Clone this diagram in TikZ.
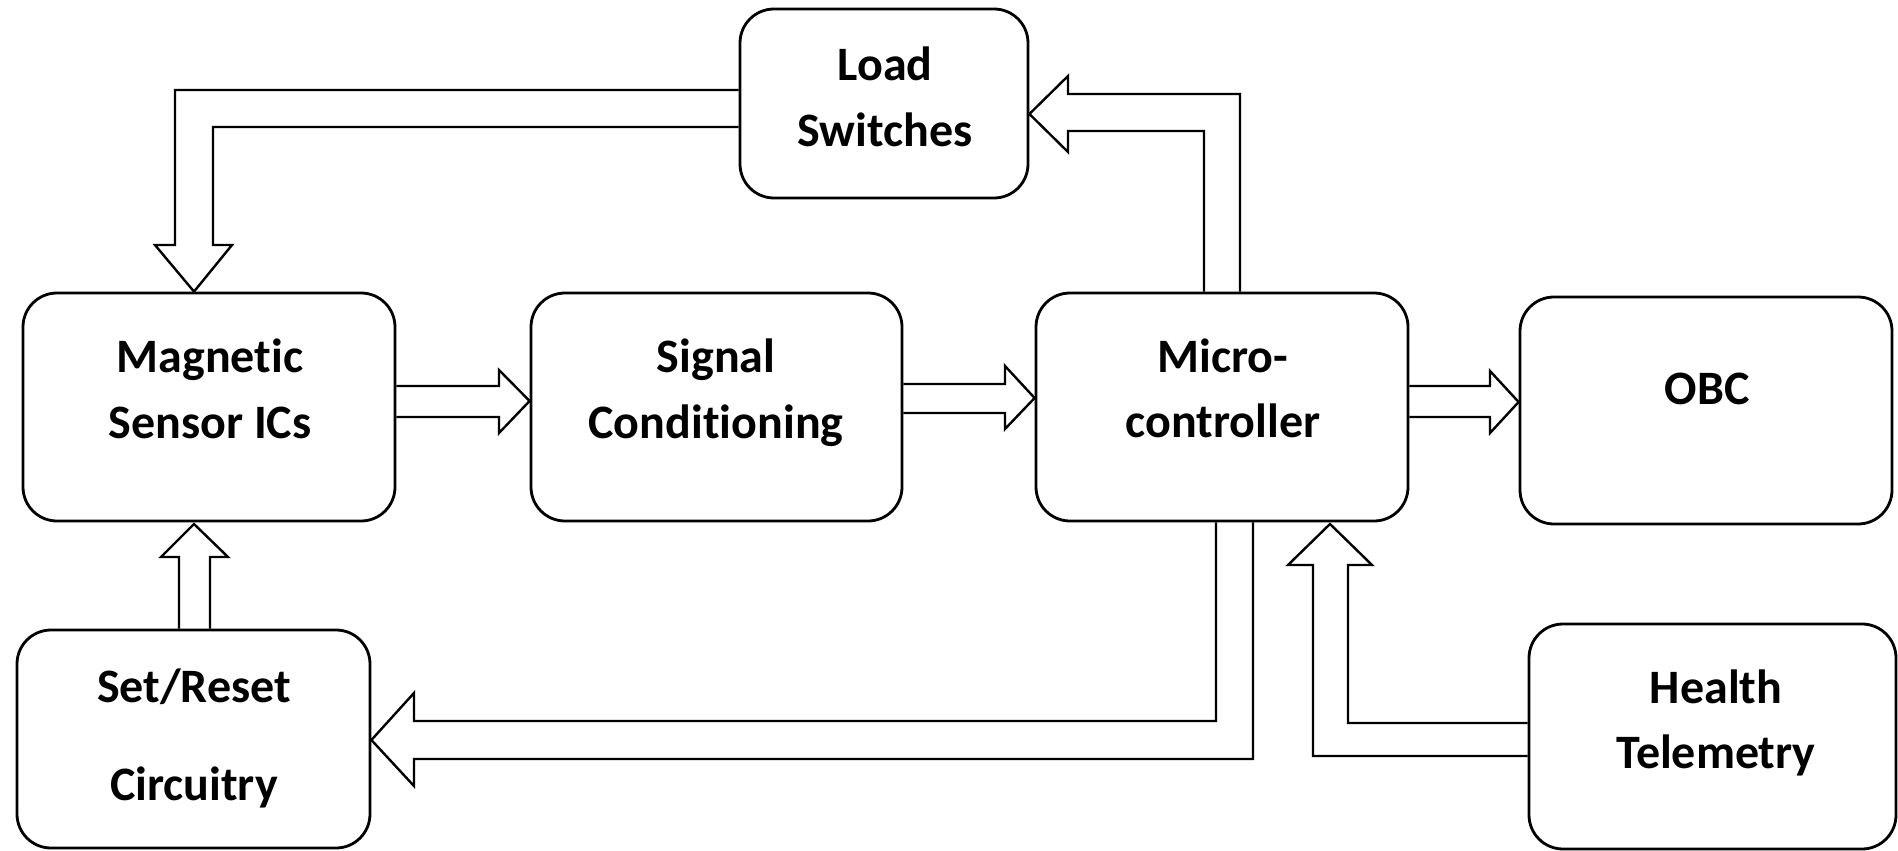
\documentclass[tikz,border=0pt]{standalone}
\usepackage{fontspec}
\setmainfont{Carlito}[Ligatures={NoCommon,NoRare,NoDiscretionary}]
\begin{document}
\begin{tikzpicture}[x=1pt,y=-1pt,
  box/.style={draw, line width=2.8pt, rounded corners=34pt, inner sep=0pt},
  txt/.style={anchor=base, inner sep=0pt, font=\fontsize{48}{58}\selectfont\bfseries},
  arr/.style={draw, line width=2.4pt, line join=miter}]
\useasboundingbox (0,0) rectangle (1898,851);
% boxes
\node[box, minimum width=288pt, minimum height=189pt] (ls)  at (884,103.5) {};
\node[box, minimum width=372pt, minimum height=228pt] (mag) at (209,407) {};
\node[box, minimum width=371pt, minimum height=228pt] (sig) at (716.5,407) {};
\node[box, minimum width=372pt, minimum height=228pt] (mc)  at (1222,407) {};
\node[box, minimum width=372pt, minimum height=227pt] (obc) at (1706,410.5) {};
\node[box, minimum width=353pt, minimum height=218pt] (sr)  at (193.5,739) {};
\node[box, minimum width=367pt, minimum height=225pt] (ht)  at (1712.5,736.5) {};
% texts
\node[txt] (lsA) at (885,81) {Load};
\node[txt] (lsB) at (885,146) {Switches};
\node[txt] (magA) at (210,372) {Magnetic};
\node[txt] (magB) at (210,438) {Sensor ICs};
\node[txt] (sigA) at (716,372) {Signal};
\node[txt] (sigB) at (716,438) {Conditioning};
\node[txt] (mcA) at (1223,372) {Micro-};
\node[txt] (mcB) at (1223,437) {controller};
\node[txt] (obcA) at (1707,404) {OBC};
\node[txt] (srA) at (194,702) {Set/Reset};
\node[txt] (srB) at (194,800) {Circuitry};
\node[txt] (htA) at (1716,703) {Health};
\node[txt] (htB) at (1716,768) {Telemetry};
% block arrows
% Load Switches -> Magnetic Sensor ICs
\draw[arr] (ls.west |- 0,90) -- (175,90) -- (175,245) -- (155,245) -- (194,0 |- mag.north)
  -- (232,245) -- (213,245) -- (213,127) -- (ls.west |- 0,127);
% Microcontroller -> Load Switches
\draw[arr] (1204,0 |- mc.north) -- (1204,131) -- (1068,131) -- (1068,152) -- (ls.east |- 0,114)
  -- (1068,76) -- (1068,94) -- (1240,94) -- (1240,0 |- mc.north);
% Magnetic -> Signal
\draw[arr] (mag.east |- 0,386) -- (499,386) -- (499,370) -- (sig.west |- 0,401)
  -- (499,433) -- (499,417) -- (mag.east |- 0,417);
% Signal -> Micro
\draw[arr] (sig.east |- 0,384) -- (1005,384) -- (1005,366) -- (mc.west |- 0,398)
  -- (1005,429) -- (1005,413) -- (sig.east |- 0,413);
% Micro -> OBC
\draw[arr] (mc.east |- 0,386) -- (1490,386) -- (1490,371) -- (obc.west |- 0,402)
  -- (1490,433) -- (1490,417) -- (mc.east |- 0,417);
% Set/Reset -> Magnetic
\draw[arr] (179,0 |- sr.north) -- (179,557) -- (161,557) -- (194,524)
  -- (228,557) -- (210,557) -- (210,0 |- sr.north);
% Micro -> Set/Reset
\draw[arr] (1216,0 |- mc.south) -- (1216,721) -- (414,721) -- (414,693) -- (sr.east |- 0,740)
  -- (414,786) -- (414,759) -- (1253,759) -- (1253,0 |- mc.south);
% Health Telemetry -> Micro
\draw[arr] (ht.west |- 0,723) -- (1348,723) -- (1348,565) -- (1372,565) -- (1330,524)
  -- (1288,565) -- (1313,565) -- (1313,756) -- (ht.west |- 0,756);
\end{tikzpicture}
\end{document}
